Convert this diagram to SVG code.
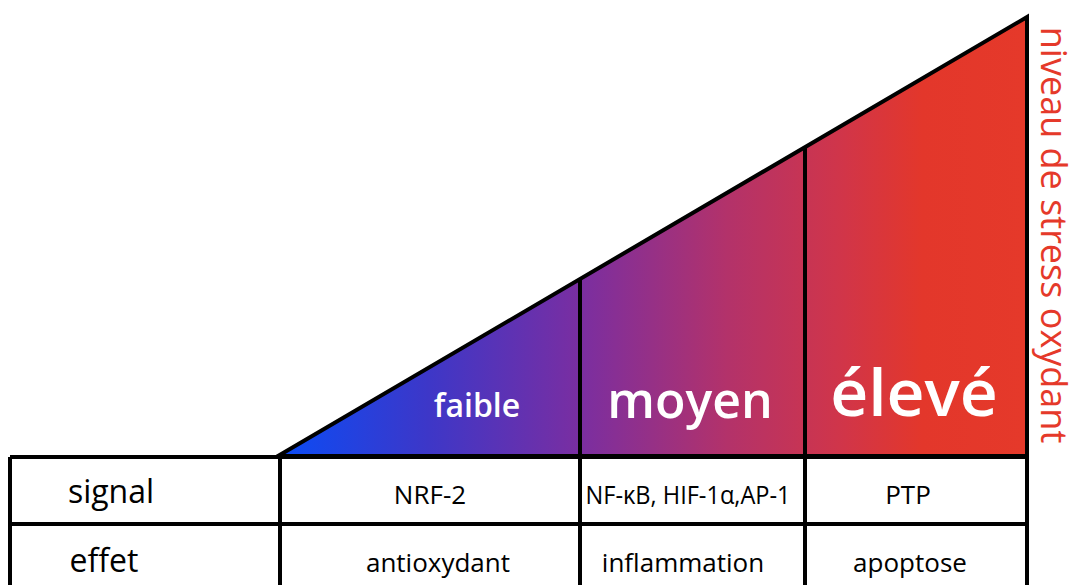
<svg xmlns="http://www.w3.org/2000/svg" width="1077" height="585" viewBox="0 0 1077 585">
<defs>
<linearGradient id="grad" gradientUnits="userSpaceOnUse" x1="278" y1="0" x2="1027" y2="0">
<stop offset="0" stop-color="#0a4cf6"/>
<stop offset="0.2" stop-color="#3d37c8"/>
<stop offset="0.4" stop-color="#792ea2"/>
<stop offset="0.6" stop-color="#b3326a"/>
<stop offset="0.75" stop-color="#d0354a"/>
<stop offset="0.86" stop-color="#e3372b"/>
<stop offset="1" stop-color="#e5392a"/>
</linearGradient>
</defs>
<style>
.ln{stroke:#000;stroke-width:4;fill:none}
.lvl{fill:#fff;font-family:"Open Sans",Lato,sans-serif;font-weight:600;text-anchor:middle}
.hd{fill:#000;font-family:"Open Sans",Lato,sans-serif;font-size:32px;text-anchor:middle}
.cell{fill:#000;font-family:"Open Sans",Lato,sans-serif;font-size:26px;text-anchor:middle}
.axis{fill:#e5392a;font-family:"Open Sans",Lato,sans-serif;font-size:36px;text-anchor:middle}
</style>
<g id="triangle">
<polygon points="278,456 1027,17 1027,456" fill="url(#grad)" stroke="#000" stroke-width="4" stroke-linejoin="miter"/>
</g>
<g id="dividers">
<line class="ln" x1="580" y1="280" x2="580" y2="585"/>
<line class="ln" x1="805" y1="148" x2="805" y2="585"/>
</g>
<g id="level-faible"><text class="lvl" x="477" y="417" font-size="32">faible</text></g>
<g id="level-moyen"><text class="lvl" x="690" y="418" font-size="50">moyen</text></g>
<g id="level-eleve"><text class="lvl" x="914" y="416" font-size="66">élevé</text></g>
<g id="axis-label"><text class="axis" transform="translate(1041,235) rotate(90)">niveau de stress oxydant</text></g>
<g id="table">
<line class="ln" x1="10" y1="457" x2="1027" y2="457"/>
<line class="ln" x1="10" y1="524" x2="1027" y2="524"/>
<line class="ln" x1="10" y1="457" x2="10" y2="585"/>
<line class="ln" x1="280" y1="457" x2="280" y2="585"/>
<line class="ln" x1="1027" y1="456" x2="1027" y2="585"/>
<text class="hd" x="111" y="503">signal</text>
<text class="hd" x="104" y="572">effet</text>
<text class="cell" x="430" y="504">NRF-2</text>
<text class="cell" x="688" y="504" font-size="23" textLength="205" lengthAdjust="spacingAndGlyphs">NF-κB, HIF-1α,AP-1</text>
<text class="cell" x="908" y="504">PTP</text>
<text class="cell" x="438" y="572">antioxydant</text>
<text class="cell" x="683" y="572">inflammation</text>
<text class="cell" x="910" y="572">apoptose</text>
</g>
</svg>
